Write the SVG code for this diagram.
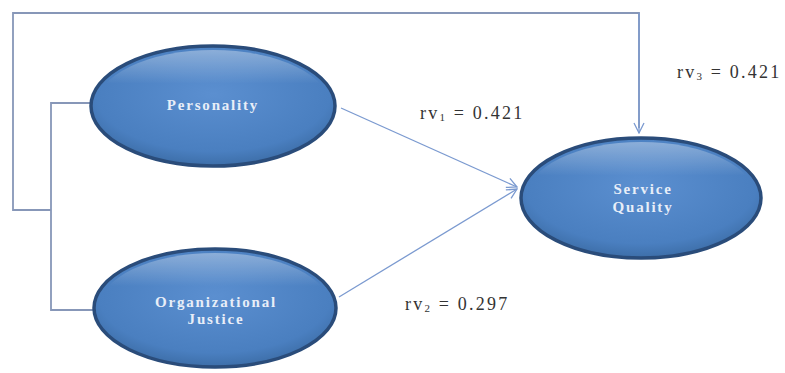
<svg xmlns="http://www.w3.org/2000/svg" width="785" height="373" viewBox="0 0 785 373">
<defs>
<radialGradient id="fill" cx="50%" cy="40%" r="60%">
<stop offset="0" stop-color="#5b8fd0"/>
<stop offset="0.8" stop-color="#4a7fc0"/>
<stop offset="1" stop-color="#3d6ea8"/>
</radialGradient>
<linearGradient id="hl" x1="0" y1="0" x2="0" y2="1">
<stop offset="0" stop-color="#ffffff" stop-opacity="0.35"/>
<stop offset="0.3" stop-color="#ffffff" stop-opacity="0"/>
</linearGradient>
<marker id="arr" viewBox="0 0 12 12" refX="11" refY="6" markerWidth="12" markerHeight="12" markerUnits="userSpaceOnUse" orient="auto">
<path d="M1,1 L11,6 L1,11" fill="none" stroke="#7b9ad0" stroke-width="1.3"/>
</marker>
</defs>
<style>
.node-shape{fill:url(#fill);stroke:#2a4c7a;stroke-width:3.5}
.node-hl{fill:url(#hl);stroke:none}
.node-text{font-family:"Liberation Serif","Times New Roman",serif;font-size:15px;letter-spacing:1.8px;fill:#e8eef8;text-anchor:middle;font-weight:bold}
.edge{fill:none;stroke:#8797b8;stroke-width:1.8}
.arrow{fill:none;stroke:#7b9ad0;stroke-width:1.3}
.label{font-family:"Liberation Serif","Times New Roman",serif;font-size:18px;letter-spacing:2.2px;fill:#333333}
</style>
<rect width="785" height="373" fill="#ffffff"/>
<g id="connectors">
<path class="edge" d="M92,103 H51 V310 H95"/>
<path class="edge" d="M51,210 H13 V13 H639 V128"/>
<path class="arrow" d="M639,13 V133" marker-end="url(#arr)"/>
<path class="arrow" d="M341,108 L517,187" marker-end="url(#arr)"/>
<path class="arrow" d="M339,297 L517,189" marker-end="url(#arr)"/>
</g>
<g id="personality">
<ellipse class="node-shape" cx="213" cy="106" rx="122" ry="60"/>
<ellipse class="node-hl" cx="213" cy="106" rx="117" ry="56"/>
<text class="node-text" x="213" y="110">Personality</text>
</g>
<g id="organizational-justice">
<ellipse class="node-shape" cx="215" cy="308" rx="121" ry="59"/>
<ellipse class="node-hl" cx="215" cy="308" rx="116" ry="55"/>
<text class="node-text" x="216" y="307">Organizational</text>
<text class="node-text" x="216" y="324">Justice</text>
</g>
<g id="service-quality">
<ellipse class="node-shape" cx="641" cy="198" rx="120" ry="60"/>
<ellipse class="node-hl" cx="641" cy="198" rx="115" ry="56"/>
<text class="node-text" x="643" y="194">Service</text>
<text class="node-text" x="643" y="212">Quality</text>
</g>
<g id="labels">
<text class="label" x="420" y="119">rv<tspan font-size="11" dy="2">1</tspan><tspan dy="-2"> = 0.421</tspan></text>
<text class="label" x="405" y="310">rv<tspan font-size="11" dy="2">2</tspan><tspan dy="-2"> = 0.297</tspan></text>
<text class="label" x="677" y="78">rv<tspan font-size="11" dy="2">3</tspan><tspan dy="-2"> = 0.421</tspan></text>
</g>
</svg>
